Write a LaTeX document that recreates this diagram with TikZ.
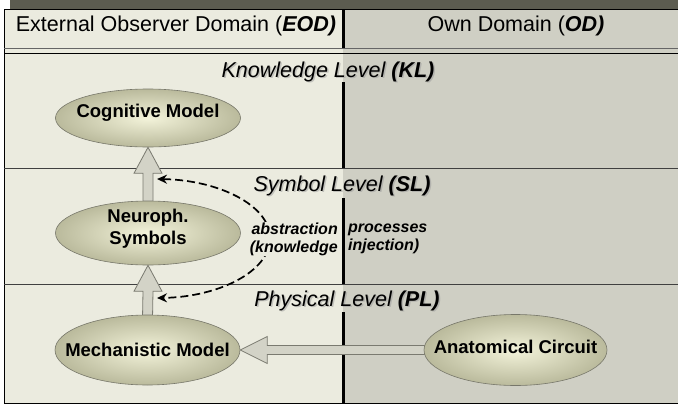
\documentclass[tikz,border=0pt]{standalone}
\usepackage{fontspec}
\setmainfont{Liberation Sans}
\usetikzlibrary{calc,arrows.meta,shapes.geometric}

\definecolor{paneL}{HTML}{EBEBDF}
\definecolor{paneR}{HTML}{CFCFC4}
\definecolor{band}{HTML}{5C5C50}
\definecolor{ellIn}{HTML}{F3F3DA}
\definecolor{ellOut}{HTML}{BABA9C}
\definecolor{ellLine}{HTML}{77776A}
\definecolor{arrFill}{HTML}{D3D3C7}
\definecolor{arrLine}{HTML}{7A7A70}

\pgfdeclarelayer{back}
\pgfdeclarelayer{arrows}
\pgfsetlayers{back,arrows,main}

% hollow block arrows between two anchors
\newcommand{\uparr}[2]{%
  \filldraw[bigarrow] ($(#1)+(-5,4)$) -- ($(#2)+(-5,26)$) -- ($(#2)+(-14,26)$) -- (#2)
    -- ($(#2)+(14,26)$) -- ($(#2)+(5,26)$) -- ($(#1)+(5,4)$);}
\newcommand{\leftarr}[2]{%
  \filldraw[bigarrow] ($(#1)+(4,-4.5)$) -- ($(#2)+(27,-4.5)$) -- ($(#2)+(27,-13.5)$) -- (#2)
    -- ($(#2)+(27,13.5)$) -- ($(#2)+(27,4.5)$) -- ($(#1)+(4,4.5)$);}

\begin{document}
\begin{tikzpicture}[x=1pt,y=-1pt,
  concept/.style={ellipse, draw=ellLine, line width=0.6pt, inner color=ellIn, outer color=ellOut, inner sep=0pt},
  conceptlabel/.style={font=\fontsize{18.5}{22}\selectfont\bfseries, align=center},
  domainname/.style={font=\fontsize{21.5}{24}\selectfont, anchor=base},
  levelname/.style={font=\fontsize{21.5}{24}\selectfont\itshape, anchor=base},
  bigarrow/.style={fill=arrFill, draw=arrLine, line width=0.8pt},
  abstr/.style={font=\fontsize{16}{18}\selectfont\bfseries\itshape, inner sep=1pt},
  process/.style={dash pattern=on 8pt off 4pt, line width=1.7pt,
    {Stealth[length=10pt,width=9pt]}-{Stealth[length=10pt,width=9pt]}},
]
\useasboundingbox (0,0) rectangle (678,405);

\begin{pgfonlayer}{back}
  % header
  \fill[band] (10,0) rectangle (690,9);
  \fill[paneL] (4,9) rectangle (343,53);
  \fill[paneR] (343,9) rectangle (690,53);
  \draw[line width=0.8pt] (4,53) -- (4,9) -- (690,9);
  \draw[line width=0.8pt, black!60] (4,48) -- (690,48);
  % levels
  \fill[paneL] (4,53) rectangle (343,403);
  \fill[paneR] (343,53) rectangle (690,403);
  \draw[line width=1pt] (690,53) -- (4,53) -- (4,403) -- (690,403);
  \foreach \y in {168,284}
    \draw[line width=0.8pt, black!75] (4,\y) -- (690,\y);
  \foreach \a/\b in {9/48, 82/168, 198/284, 312/403}
    \draw[line width=3pt] (343,\a) -- (343,\b);
\end{pgfonlayer}

\node[domainname] (eod) at (176,31) {External Observer Domain (\textbf{\itshape EOD)}};
\node[domainname] (od) at (516,31) {Own Domain (\textbf{\itshape OD)}};

\foreach \x/\y/\t [count=\i] in {328/77/{Knowledge Level \textbf{(KL)}},
    342/191/{Symbol Level \textbf{(SL)}}, 347/306/{Physical Level \textbf{(PL)}}} {
  \node[levelname, text=black!40, opacity=0.5] (lvlsh\i) at (\x+1.5,\y+1.5) {\t};
  \node[levelname] (lvl\i) at (\x,\y) {\t};
}

\node[concept, minimum width=185pt, minimum height=58pt,
  label={[conceptlabel, yshift=5pt]center:Cognitive Model}] (cog) at (148,118) {};
\node[concept, minimum width=185pt, minimum height=64pt,
  label={[conceptlabel, yshift=4pt]center:{Neuroph.\\Symbols}}] (neuro) at (148,233) {};
\node[concept, minimum width=185pt, minimum height=70pt,
  label={[conceptlabel]center:Mechanistic Model}] (mech) at (147.5,350) {};
\node[concept, minimum width=183pt, minimum height=71pt,
  label={[conceptlabel, yshift=3pt]center:Anatomical Circuit}] (anat) at (515.5,350) {};

\begin{pgfonlayer}{arrows}
  \uparr{neuro.north}{cog.south}
  \uparr{mech.north}{neuro.south}
  \leftarr{anat.west}{mech.east}
\end{pgfonlayer}

\coordinate (upTip) at (157,179);
\coordinate (lowTip) at (157,298);
\draw[process] (upTip) .. controls (218,180) and (270,205) .. (270,238)
  .. controls (270,272) and (218,297) .. (lowTip);

\node[abstr, anchor=east, align=right, fill=paneL] (abs1) at (339,239) {abstraction\\(knowledge};
\node[abstr, anchor=west, align=left] (abs2) at (347,239) {processes\\injection)};
\end{tikzpicture}
\end{document}
